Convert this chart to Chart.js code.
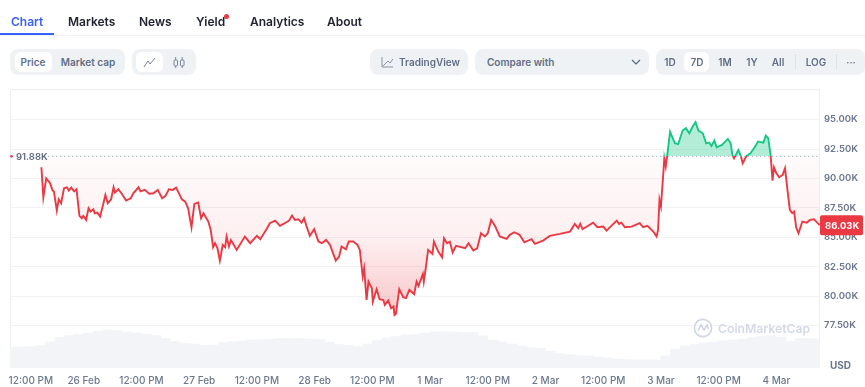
<!DOCTYPE html>
<html>
<head>
<meta charset="utf-8">
<script src="https://cdn.jsdelivr.net/npm/chart.js@4/dist/chart.umd.min.js"></script>
<style>
  html, body { margin: 0; padding: 0; background: #fff; }
  body { width: 865px; height: 387px; position: relative; overflow: hidden; font-family: Inter, sans-serif; }
  canvas { position: absolute; left: 0; top: 0; }
  .abs { position: absolute; white-space: nowrap; }
  .nav { top: 14px; font-size: 12px; font-weight: 600; line-height: 16px; color: #222531; }
  .pill { background: #eff2f5; border-radius: 8px; top: 49px; height: 26px; }
  .on { background: #fff; border-radius: 6px; top: 52px; height: 20px; }
  .btn { top: 55px; font-size: 10px; font-weight: 600; line-height: 14px; color: #616e85; }
  .c { transform: translateX(-50%); }
</style>
</head>
<body>
<canvas id="chart" width="865" height="387"></canvas>

<!-- TOP TABS -->
<div class="abs nav" style="left:11px;color:#3861fb">Chart</div>
<div class="abs nav" style="left:68px">Markets</div>
<div class="abs nav" style="left:139px">News</div>
<div class="abs nav" style="left:196px">Yield</div>
<div class="abs" style="left:224px;top:14px;width:5px;height:5px;border-radius:50%;background:#ea3943"></div>
<div class="abs nav" style="left:250px">Analytics</div>
<div class="abs nav" style="left:327px">About</div>
<div class="abs" style="left:0;top:35px;width:865px;height:1px;background:#eff2f5"></div>
<div class="abs" style="left:0;top:33px;width:54px;height:2px;background:#3861fb"></div>

<!-- BUTTONS -->
<div class="abs pill" style="left:10px;width:115px"></div>
<div class="abs on" style="left:15px;width:37px"></div>
<div class="abs btn c" style="left:33px">Price</div>
<div class="abs btn c" style="left:88px">Market cap</div>

<div class="abs pill" style="left:132px;width:64px"></div>
<div class="abs on" style="left:136px;width:27px"></div>
<svg class="abs" style="left:143px;top:56px" width="13" height="13" fill="none" stroke="#7a8499" stroke-width="1"><path d="M1 11 L5 5 L7 8 L12 2"/></svg>
<svg class="abs" style="left:172px;top:56px" width="14" height="13" fill="none" stroke="#7a8499" stroke-width="1"><rect x="2" y="4" width="3.5" height="6" rx="1"/><rect x="8.5" y="4" width="3.5" height="6" rx="1"/><path d="M3.7 1V4M3.7 10V12M10.2 1V4M10.2 10V12"/></svg>

<div class="abs pill" style="left:370px;width:98px"></div>
<svg class="abs" style="left:381px;top:57px" width="13" height="11" fill="none" stroke="#8a93a6" stroke-width="1"><path d="M1 0V10H12M2 9L7 4L9 6L12 2"/></svg>
<div class="abs btn" style="left:399px">TradingView</div>

<div class="abs pill" style="left:475px;width:174px"></div>
<div class="abs btn" style="left:487px">Compare with</div>
<svg class="abs" style="left:630px;top:58px" width="12" height="9" fill="none" stroke="#58667e" stroke-width="1.2"><path d="M2 2L6 6L10 2"/></svg>

<div class="abs pill" style="left:656px;width:209px"></div>
<div class="abs on" style="left:684px;width:25px"></div>
<div class="abs btn c" style="left:670px">1D</div>
<div class="abs btn c" style="left:697px">7D</div>
<div class="abs btn c" style="left:725px">1M</div>
<div class="abs btn c" style="left:752px">1Y</div>
<div class="abs btn c" style="left:778px">All</div>
<div class="abs" style="left:795px;top:54px;width:1px;height:15px;background:#dde1e8"></div>
<div class="abs btn c" style="left:816px">LOG</div>
<div class="abs" style="left:836px;top:54px;width:1px;height:15px;background:#dde1e8"></div>
<div class="abs btn c" style="left:851px">···</div>

<!-- WATERMARK -->
<svg class="abs" style="left:693px;top:318px" width="20" height="20" fill="none" stroke="#cfd6e4" stroke-width="1.6"><circle cx="10" cy="10" r="8.6"/><path d="M5 13L8 7L11 12L14 7L15.5 11"/></svg>
<div class="abs" style="left:718px;top:320px;font-size:12.2px;font-weight:600;line-height:18px;color:#d3d9e6">CoinMarketCap</div>

<script>
// DATA
// hours since 25 Feb 12:00 PM
const priceHours = [
  3.2,3.6,4.2,5.0,5.5,5.8,6.4,6.8,7.3,7.9,8.5,8.9,9.4,10.0,10.5,11.1,11.6,11.9,12.5,13.0,13.4,14.0,14.3,14.8,15.4,
  16.1,16.5,17.0,17.7,18.2,18.5,19.2,19.9,20.8,21.8,22.3,23.4,23.8,24.7,25.6,26.5,27.4,28.3,29.0,29.7,30.5,31.2,
  32.4,33.1,33.7,34.4,35.0,35.8,36.4,36.9,37.9,38.4,38.9,39.3,39.8,40.3,40.9,41.4,41.7,42.2,42.6,43.8,45.5,46.6,
  48.0,48.7,50.0,50.7,51.8,52.8,53.8,54.7,55.3,55.9,56.6,57.3,57.8,58.3,59.0,59.9,60.8,61.5,62.4,63.2,64.4,65.1,
  65.6,66.5,67.1,68.0,68.9,69.4,70.0,70.3,70.8,71.2,71.9,72.1,72.9,73.5,74.3,74.6,75.3,75.9,76.4,76.6,76.9,77.6,
  78.4,79.0,79.7,80.7,81.2,81.6,82.5,82.7,83.1,83.6,84.5,84.8,85.7,86.5,86.9,87.5,88.1,88.7,89.4,91.3,92.0,93.0,
  93.8,94.6,95.4,96.0,96.7,97.5,98.5,99.9,100.6,101.5,102.6,103.6,105.1,105.8,107.5,108.9,111.0,113.1,114.1,114.8,
  115.2,115.7,117.9,118.8,120.0,120.7,122.8,123.3,123.8,124.5,125.9,127.6,128.3,129.2,130.4,131.1,131.4,131.7,132.0,
  132.5,132.7,133.0,133.3,133.9,134.9,135.6,136.5,137.2,137.9,138.6,139.2,139.8,140.7,141.4,142.0,142.5,143.1,143.6,
  144.7,145.9,146.5,146.9,147.2,148.1,148.6,149.0,149.8,150.6,151.5,152.2,153.3,153.8,154.3,154.8,155.2,155.5,156.0,
  156.6,157.3,157.8,158.3,158.8,159.3,159.7,160.1,160.6,161.4,162.3,163.0,163.8,165.0
];
// price in thousands of USD
const priceValues = [
  90.95,88.4,90.02,89.6,89.0,88.9,87.27,88.23,87.9,89.17,89.25,88.97,89.22,88.9,89.08,86.82,86.62,86.82,86.48,87.47,87.19,87.38,87.04,87.1,86.76,
  87.9,88.6,87.9,88.23,89.25,88.8,89.08,88.7,88.12,88.32,88.74,89.25,88.9,89.03,88.7,88.74,89.03,88.32,88.52,89.08,89.03,89.22,
  88.23,88.03,87.47,85.85,87.84,87.95,86.62,87.04,86.34,85.63,84.16,84.5,84.07,83.02,84.35,84.16,85.06,84.21,84.77,83.93,85.06,84.5,
  85.12,84.84,85.69,86.2,86.42,85.97,86.2,86.42,86.85,86.48,86.54,86.25,86.62,85.97,85.12,85.69,84.64,84.5,84.78,84.36,83.03,83.37,
  84.22,83.99,84.64,84.64,84.36,83.93,81.67,82.37,79.68,81.24,80.67,79.54,80.59,79.74,79.68,79.26,79.63,78.98,79.12,78.41,78.5,80.59,
  79.91,79.83,80.53,80.17,81.24,80.87,81.89,81.24,82.37,83.93,83.59,84.64,83.79,83.31,84.92,84.5,84.64,83.71,84.27,84.07,84.5,83.88,
  84.07,85.35,85.07,85.35,86.48,85.97,85.07,84.87,85.21,85.43,85.21,84.58,84.84,84.44,84.72,85.12,85.29,85.49,86.14,85.77,
  86.14,85.69,86.25,85.86,85.91,85.57,86.42,86.14,86.25,85.86,85.91,86.2,85.86,85.97,85.49,85.06,85.63,88.18,87.61,
  90.44,91.72,91.01,91.92,93.98,92.99,92.91,94.07,94.27,93.84,94.41,94.78,94.07,93.84,92.99,93.05,92.77,93.22,92.65,
  92.85,93.36,92.99,91.92,91.72,92.42,91.92,91.29,91.92,92.14,92.65,93.13,93.05,93.64,93.42,92.0,89.82,90.95,90.44,
  90.1,90.3,90.87,89.03,87.33,87.05,87.19,85.85,85.34,86.34,86.25,86.48,86.54,86.03
];
// volume, billions of USD, one bar every 2 hours from hour -3
const volumes = [
  42,42,43,45,52,61,65,67,70,74,76,75,72,70,68,65,59,53,49,48,45,46,51,53,54,56,57,58,59,59,59,58,57,52,47,45,43,
  48,55,60,63,66,67,70,72,73,72,71,71,64,56,52,48,44,41,39,34,29,27,25,24,22,20,18,17,16,16,16,24,38,44,47,50,52,
  54,56,58,61,63,65,62,53,59,59,57
];
const baselinePrice = 91.88;
const lastPrice = 86.03;

const xTickHours = [1, 12, 24, 36, 48, 60, 72, 84, 96, 108, 120, 132, 144, 156];
const xTickLabels = ["12:00 PM", "26 Feb", "12:00 PM", "27 Feb", "12:00 PM", "28 Feb", "12:00 PM", "1 Mar", "12:00 PM", "2 Mar", "12:00 PM", "3 Mar", "12:00 PM", "4 Mar"];
const yTickValues = [95, 92.5, 90, 87.5, 85, 82.5, 80, 77.5];
const yTickLabels = ["95.00K", "92.50K", "90.00K", "87.50K", "85.00K", "82.50K", "80.00K", "77.50K"];

const RED = "#ea3943";
const GREEN = "#16c784";
const GRID = "#f1f3f6";
const TEXT = "#6b778c";

// gradients depend on where the baseline lands, so build them after layout
const gradientPlugin = {
  id: "gradients",
  afterLayout(chart) {
    const { ctx, chartArea, scales } = chart;
    const baseY = scales.y.getPixelForValue(baselinePrice);
    const stop = (baseY - chartArea.top) / (chartArea.bottom - chartArea.top);

    const stroke = ctx.createLinearGradient(0, chartArea.top, 0, chartArea.bottom);
    stroke.addColorStop(0, GREEN);
    stroke.addColorStop(stop, GREEN);
    stroke.addColorStop(stop, RED);
    stroke.addColorStop(1, RED);

    const below = ctx.createLinearGradient(0, baseY, 0, scales.y.getPixelForValue(78));
    below.addColorStop(0, "rgba(234,57,67,0.02)");
    below.addColorStop(0.5, "rgba(234,57,67,0.08)");
    below.addColorStop(1, "rgba(234,57,67,0.3)");

    const ds = chart.data.datasets[0];
    ds.borderColor = stroke;
    ds.fill = { target: { value: baselinePrice }, above: "rgba(22,199,132,0.32)", below };
  },
};

const framePlugin = {
  id: "frame",
  beforeDatasetsDraw(chart) {
    const { ctx, chartArea: a } = chart;
    ctx.save();
    ctx.strokeStyle = "#eceff3";
    ctx.lineWidth = 1;
    ctx.beginPath();
    ctx.moveTo(a.left + 0.5, a.bottom);
    ctx.lineTo(a.left + 0.5, a.top + 0.5);
    ctx.lineTo(a.right - 0.5, a.top + 0.5);
    ctx.lineTo(a.right - 0.5, a.bottom);
    ctx.stroke();
    ctx.restore();
  },
  afterDraw(chart) {
    const { ctx, chartArea: a, scales } = chart;
    ctx.save();
    ctx.font = "600 9.5px Inter";
    ctx.textBaseline = "middle";

    // open price marker on the left
    const baseY = scales.y.getPixelForValue(baselinePrice);
    ctx.fillStyle = RED;
    ctx.beginPath();
    ctx.arc(a.left + 1.5, baseY, 1.3, 0, Math.PI * 2);
    ctx.fill();
    ctx.fillStyle = "#5f6b80";
    ctx.textAlign = "left";
    ctx.fillText(baselinePrice.toFixed(2) + "K", a.left + 6, baseY + 0.5);

    // currency under the price axis
    ctx.fillStyle = TEXT;
    ctx.font = "700 10px Inter";
    ctx.fillText("USD", a.right + 10, a.bottom - 2.5);

    // last price tag on the right
    const lastY = scales.y.getPixelForValue(lastPrice);
    ctx.fillStyle = RED;
    ctx.beginPath();
    ctx.roundRect(a.right, lastY - 10, 43, 20, 2);
    ctx.fill();
    ctx.fillStyle = "#fff";
    ctx.font = "700 9.5px Inter";
    ctx.fillText(lastPrice.toFixed(2) + "K", a.right + 5, lastY + 0.5);
    ctx.restore();
  },
};

new Chart(document.getElementById("chart"), {
  type: "line",
  data: {
    datasets: [
      {
        data: priceHours.map((h, i) => ({ x: h, y: priceValues[i] })),
        borderWidth: 1.9,
        pointRadius: 0,
        tension: 0,
        order: 1,
      },
      {
        // dotted open price line
        data: [{ x: 4.6, y: baselinePrice }, { x: 165.1, y: baselinePrice }],
        borderColor: "#9aa3b2",
        borderWidth: 1,
        borderDash: [1, 3],
        pointRadius: 0,
        fill: false,
        order: 0,
      },
      {
        type: "bar",
        data: volumes.map((v, i) => ({ x: -3 + 2 * i, y: v })),
        yAxisID: "yVol",
        backgroundColor: "#f2f4f7",
        barThickness: 9.8,
        order: 2,
      },
    ],
  },
  plugins: [gradientPlugin, framePlugin],
  options: {
    responsive: false,
    animation: false,
    layout: { padding: { left: 10, top: 89, right: 0, bottom: 0 } },
    plugins: { legend: { display: false }, tooltip: { enabled: false } },
    scales: {
      x: {
        type: "linear",
        min: -3.33,
        max: 165.07,
        offset: false,
        grid: { display: false, drawTicks: false },
        border: { display: false },
        afterBuildTicks: (axis) => { axis.ticks = xTickHours.map((value) => ({ value })); },
        afterFit: (axis) => { axis.height = 19; },
        ticks: {
          autoSkip: false,
          maxRotation: 0,
          padding: 7,
          color: TEXT,
          font: { family: "Inter", size: 10, weight: 500 },
          callback: (v) => xTickLabels[xTickHours.indexOf(v)],
        },
      },
      y: {
        position: "right",
        min: 73.9,
        max: 97.6,
        grid: { drawTicks: false, color: GRID },
        border: { display: false },
        afterBuildTicks: (axis) => { axis.ticks = yTickValues.map((value) => ({ value })); },
        afterFit: (axis) => { axis.width = 45; },
        ticks: {
          autoSkip: false,
          padding: 4,
          color: TEXT,
          font: { family: "Inter", size: 9.5, weight: 600 },
          callback: (v) => yTickLabels[yTickValues.indexOf(v)],
        },
      },
      yVol: {
        display: false,
        min: 0,
        max: 558,
      },
    },
  },
});
</script>
</body>
</html>
